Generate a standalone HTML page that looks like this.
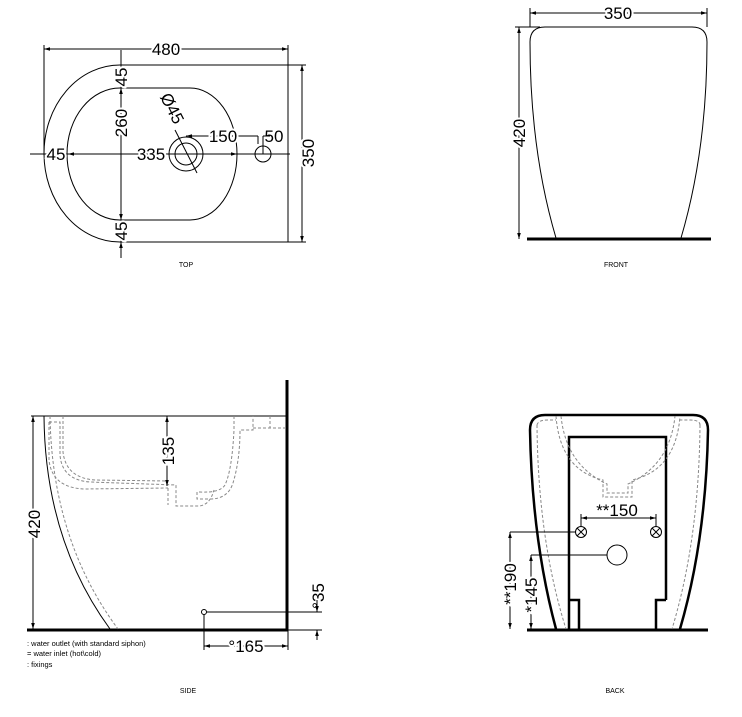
<!DOCTYPE html>
<html><head><meta charset="utf-8"><style>
html,body{margin:0;padding:0;background:#fff;}
svg{display:block;}
text{font-family:"Liberation Sans",Arial,sans-serif;fill:#000;}
</style></head><body>
<svg width="742" height="717" viewBox="0 0 742 717" xmlns="http://www.w3.org/2000/svg">
<defs>
<marker id="a" viewBox="0 0 10 10" refX="10" refY="5" markerWidth="8" markerHeight="6" orient="auto-start-reverse"><path d="M0 2 L10 5 L0 8 z" fill="#000"/></marker>
</defs>
<g fill="none" stroke="#000" stroke-width="1">
<!-- TOP -->
<path d="M120 65 H288 V242 H120 A76 88.5 0 0 1 120 65"/>
<path d="M120 88 H190 A47 66 0 0 1 190 220 H120 A53 66 0 0 1 120 88"/>
<circle cx="186" cy="154" r="17"/><circle cx="186" cy="154" r="11"/>
<circle cx="263" cy="154" r="8"/>
<line x1="44" y1="45" x2="44" y2="155"/>
<line x1="288" y1="45" x2="288" y2="65"/>
<line x1="44" y1="49" x2="288" y2="49" marker-start="url(#a)" marker-end="url(#a)"/>
<line x1="288" y1="65" x2="306" y2="65"/><line x1="288" y1="242" x2="306" y2="242"/>
<line x1="302" y1="65" x2="302" y2="242" marker-start="url(#a)" marker-end="url(#a)"/>
<line x1="121" y1="50" x2="121" y2="258"/>
<path d="M121 57 V65 M121 65 V88" marker-end="url(#a)"/>
<line x1="121" y1="88" x2="121" y2="220" marker-start="url(#a)" marker-end="url(#a)"/>
<line x1="121" y1="242" x2="121" y2="250" marker-start="url(#a)"/>
<line x1="30" y1="154" x2="290" y2="154"/>
<line x1="44" y1="154" x2="68" y2="154" marker-start="url(#a)" marker-end="url(#a)"/>
<line x1="68" y1="154" x2="237" y2="154" marker-start="url(#a)" marker-end="url(#a)"/>
<line x1="186" y1="136" x2="258" y2="136" marker-start="url(#a)"/>
<line x1="258" y1="136" x2="258" y2="144"/>
<line x1="263" y1="136" x2="270" y2="136"/><line x1="263" y1="136" x2="263" y2="154"/>
<line x1="263" y1="154" x2="272" y2="154"/>
<line x1="175" y1="130" x2="197" y2="173"/>
<!-- FRONT -->
<path d="M530 42 Q530 27 545 27 H692 Q707 27 707 42 Q707 150 681 238"/>
<path d="M530 42 Q530 150 556 238"/>
<line x1="527" y1="239" x2="711" y2="239" stroke-width="3"/>
<line x1="530" y1="8" x2="530" y2="27"/><line x1="707" y1="8" x2="707" y2="27"/>
<line x1="530" y1="13" x2="707" y2="13" marker-start="url(#a)" marker-end="url(#a)"/>
<line x1="515" y1="27" x2="540" y2="27"/>
<line x1="519" y1="27" x2="519" y2="239" marker-start="url(#a)" marker-end="url(#a)"/>
<!-- SIDE -->
<line x1="287" y1="380" x2="287" y2="631" stroke-width="3"/>
<line x1="27" y1="630" x2="288" y2="630" stroke-width="3"/>
<line x1="31" y1="416" x2="287" y2="416"/>
<line x1="33" y1="416" x2="33" y2="629" marker-start="url(#a)" marker-end="url(#a)"/>
<path d="M44 416 Q45 540 110 629"/>
<path d="M50 416 Q52 540 118 629" stroke="#888" stroke-dasharray="3,2"/>
<g stroke="#888" stroke-dasharray="3,2">
<path d="M49 422 H60 V455 Q62 480 90 482 L176 485 V506 H199 Q210 505 214 490"/>
<path d="M63 416 V452 Q66 478 95 480 L168 481 M168 488 V505"/>
<path d="M49 422 V460 Q52 488 85 489 L168 488"/>
<path d="M234 416 V430 Q232 470 225 485 Q220 493 200 492 H197 V499 H210 Q228 499 233 483 Q240 460 240 430 H253 V416 M253 428 H287 M270 416 V428"/>
</g>
<line x1="167" y1="416" x2="167" y2="486" marker-start="url(#a)" marker-end="url(#a)"/>
<circle cx="204" cy="612" r="2.5"/>
<line x1="206" y1="612" x2="322" y2="612"/>
<line x1="288" y1="630" x2="322" y2="630"/>
<line x1="317" y1="600" x2="317" y2="612" marker-end="url(#a)"/>
<line x1="317" y1="640" x2="317" y2="630" marker-end="url(#a)"/>
<line x1="204" y1="614" x2="204" y2="650"/><line x1="288" y1="630" x2="288" y2="650"/>
<line x1="204" y1="646" x2="288" y2="646" marker-start="url(#a)" marker-end="url(#a)"/>
<!-- BACK -->
<path d="M556 629 Q532 540 530 430 Q530 415 545 415 H693 Q708 415 708 430 Q706 540 680 629" stroke-width="2.5"/>
<path d="M569 629 V600 V437 H666 V600 M579 629 V600 H569 M656 629 V600 H666" stroke-width="2.5"/>
<line x1="527" y1="630" x2="708" y2="630" stroke-width="3"/>
<g stroke="#888" stroke-dasharray="3,2">
<path d="M556 416 Q560 470 603 480 V497 H632 V480 Q676 470 680 416"/>
<path d="M561 416 Q566 465 607 484 V493 H628 V484 Q670 465 675 416"/>
<path d="M537 425 Q538 420 548 420 H556 M700 425 Q700 420 690 420 H680"/>
<path d="M537 425 Q538 540 566 629 M700 425 Q699 540 672 629"/>
</g>
<line x1="581" y1="518" x2="656" y2="518" marker-start="url(#a)" marker-end="url(#a)"/>
<line x1="581" y1="514" x2="581" y2="526"/><line x1="656" y1="514" x2="656" y2="526"/>
<circle cx="581" cy="532" r="5.5"/><path d="M577 528 L585 536 M585 528 L577 536"/>
<circle cx="656" cy="532" r="5.5"/><path d="M652 528 L660 536 M660 528 L652 536"/>
<circle cx="617" cy="555" r="10"/>
<line x1="510" y1="532" x2="575" y2="532"/>
<line x1="510" y1="532" x2="510" y2="629" marker-start="url(#a)" marker-end="url(#a)"/>
<line x1="531" y1="555" x2="607" y2="555"/>
<line x1="531" y1="555" x2="531" y2="629" marker-start="url(#a)" marker-end="url(#a)"/>
</g>
<!-- labels -->
<g font-size="17">
<text x="166" y="55" text-anchor="middle" stroke="#fff" stroke-width="4" style="paint-order:stroke">480</text>
<text x="223" y="142" text-anchor="middle" stroke="#fff" stroke-width="4" style="paint-order:stroke">150</text>
<text x="274" y="142" text-anchor="middle">50</text>
<text x="151" y="160" text-anchor="middle" stroke="#fff" stroke-width="4" style="paint-order:stroke">335</text>
<text x="56" y="160" text-anchor="middle" stroke="#fff" stroke-width="4" style="paint-order:stroke">45</text>
<text transform="translate(127,77) rotate(-90)" text-anchor="middle" stroke="#fff" stroke-width="4" style="paint-order:stroke">45</text>
<text transform="translate(127,123) rotate(-90)" text-anchor="middle" stroke="#fff" stroke-width="4" style="paint-order:stroke">260</text>
<text transform="translate(127,231) rotate(-90)" text-anchor="middle" stroke="#fff" stroke-width="4" style="paint-order:stroke">45</text>
<text transform="translate(314,153) rotate(-90)" text-anchor="middle" stroke="#fff" stroke-width="4" style="paint-order:stroke">350</text>
<text transform="translate(167,111) rotate(63)" text-anchor="middle">Ø45</text>
<text x="618" y="19" text-anchor="middle" stroke="#fff" stroke-width="4" style="paint-order:stroke">350</text>
<text transform="translate(525,133) rotate(-90)" text-anchor="middle" stroke="#fff" stroke-width="4" style="paint-order:stroke">420</text>
<text transform="translate(40,524) rotate(-90)" text-anchor="middle" stroke="#fff" stroke-width="4" style="paint-order:stroke">420</text>
<text transform="translate(174,451) rotate(-90)" text-anchor="middle" stroke="#fff" stroke-width="4" style="paint-order:stroke">135</text>
<text transform="translate(324,596) rotate(-90)" text-anchor="middle">°35</text>
<text x="246" y="652" text-anchor="middle" stroke="#fff" stroke-width="4" style="paint-order:stroke">°165</text>
<text x="617" y="516" text-anchor="middle">**150</text>
<text transform="translate(516,584) rotate(-90)" text-anchor="middle" stroke="#fff" stroke-width="4" style="paint-order:stroke">**190</text>
<text transform="translate(537,595) rotate(-90)" text-anchor="middle" stroke="#fff" stroke-width="4" style="paint-order:stroke">*145</text>
</g>
<g font-size="7.5">
<text x="27" y="646">: water outlet (with standard siphon)</text>
<text x="27" y="656">= water inlet (hot\cold)</text>
<text x="27" y="667">: fixings</text>
</g>
<g font-size="7" text-anchor="middle">
<text x="186" y="267">TOP</text>
<text x="616" y="267">FRONT</text>
<text x="188" y="693">SIDE</text>
<text x="615" y="693">BACK</text>
</g>
</svg>
</body></html>
